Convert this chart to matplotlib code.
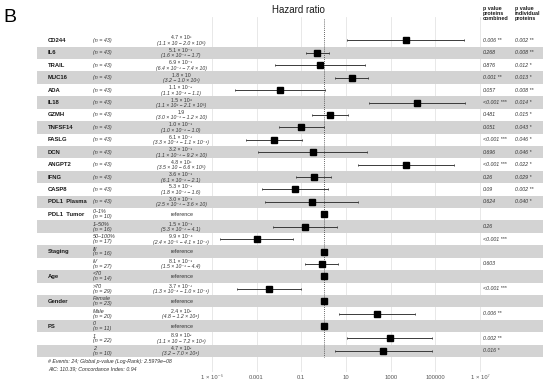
"""
Forest plot (hazard ratios, Cox model) - recreated from figure panel B.
"""
import numpy as np
import matplotlib
matplotlib.use("Agg")
import matplotlib.pyplot as plt
from matplotlib.ticker import NullLocator

plt.rcParams["font.family"] = ["Liberation Sans", "DejaVu Sans"]

# ---- data --------------------------------------------------------------
var_names = ["CD244", "IL6", "TRAIL", "MUC16", "ADA", "IL18", "GZMH", "TNFSF14",
             "FASLG", "DCN", "ANGPT2", "IFNG", "CASP8", "PDL1  Plasma",
             "PDL1  Tumor", "", "", "Staging", "", "Age", "", "Gender", "",
             "PS", "", ""]
n_labels = ["(n = 43)"] * 14 + [
    "0–1%\n(n = 10)", "1–50%\n(n = 16)", "50–100%\n(n = 17)",
    "III\n(n = 16)", "IV\n(n = 27)",
    "<70\n(n = 14)", ">70\n(n = 29)",
    "Female\n(n = 23)", "Male\n(n = 20)",
    "0\n(n = 11)", "1\n(n = 22)", "2\n(n = 10)"]
hr = [4.7e3, 0.51, 0.69, 18, 0.011, 1.5e4, 1.9, 0.10, 6.1e-3, 0.32, 4.8e3, 0.36,
      0.053, 0.30, 1, 0.15, 9.9e-4, 1, 0.81, 1, 3.7e-3, 1, 240, 1, 890, 470]
ci_low = [11, 0.16, 6.4e-3, 3.2, 1.1e-4, 110, 0.30, 0.01, 3.3e-4, 1.1e-3, 35, 0.061,
          1.8e-3, 2.5e-3, np.nan, 5.3e-3, 2.4e-5, np.nan, 0.15, np.nan, 1.3e-4,
          np.nan, 4.8, np.nan, 11, 3.2]
ci_high = [2.0e6, 1.7, 74, 100, 1.1, 2.1e6, 12, 1.0, 0.11, 92, 6.6e5, 2.1,
           1.6, 36, np.nan, 4.1, 0.041, np.nan, 4.4, np.nan, 0.10,
           np.nan, 1.2e4, np.nan, 7.2e4, 7.0e4]
hr_text = ["4.7 × 10³", "5.1 × 10⁻¹", "6.9 × 10⁻¹", "1.8 × 10", "1.1 × 10⁻²",
           "1.5 × 10⁴", "1.9", "1.0 × 10⁻¹", "6.1 × 10⁻³", "3.2 × 10⁻¹",
           "4.8 × 10³", "3.6 × 10⁻¹", "5.3 × 10⁻²", "3.0 × 10⁻¹", "reference",
           "1.5 × 10⁻¹", "9.9 × 10⁻⁴", "reference", "8.1 × 10⁻¹", "reference",
           "3.7 × 10⁻³", "reference", "2.4 × 10²", "reference", "8.9 × 10²",
           "4.7 × 10²"]
ci_text = ["(1.1 × 10 − 2.0 × 10⁶)", "(1.6 × 10⁻¹ − 1.7)", "(6.4 × 10⁻³ − 7.4 × 10)",
           "(3.2 − 1.0 × 10²)", "(1.1 × 10⁻⁴ − 1.1)", "(1.1 × 10² − 2.1 × 10⁶)",
           "(3.0 × 10⁻¹ − 1.2 × 10)", "(1.0 × 10⁻² − 1.0)", "(3.3 × 10⁻⁴ − 1.1 × 10⁻¹)",
           "(1.1 × 10⁻³ − 9.2 × 10)", "(3.5 × 10 − 6.6 × 10⁵)", "(6.1 × 10⁻² − 2.1)",
           "(1.8 × 10⁻³ − 1.6)", "(2.5 × 10⁻³ − 3.6 × 10)", "",
           "(5.3 × 10⁻³ − 4.1)", "(2.4 × 10⁻⁵ − 4.1 × 10⁻²)", "",
           "(1.5 × 10⁻¹ − 4.4)", "", "(1.3 × 10⁻⁴ − 1.0 × 10⁻¹)", "",
           "(4.8 − 1.2 × 10⁴)", "", "(1.1 × 10 − 7.2 × 10⁴)", "(3.2 − 7.0 × 10⁴)"]
p_combined = ["0.006 **", "0.268", "0.876", "0.001 **", "0.057", "<0.001 ***",
              "0.481", "0.051", "<0.001 ***", "0.696", "<0.001 ***", "0.26",
              "0.09", "0.624", "", "0.26", "<0.001 ***", "", "0.603", "",
              "<0.001 ***", "", "0.006 **", "", "0.002 **", "0.016 *"]
p_individual = ["0.002 **", "0.008 **", "0.012 *", "0.013 *", "0.008 **", "0.014 *",
                "0.015 *", "0.043 *", "0.046 *", "0.046 *", "0.022 *", "0.029 *",
                "0.002 **", "0.040 *"] + [""] * 12
tick_vals = [1e-5, 1e-3, 0.1, 10, 1e3, 1e5, 1e7]
tick_labels = ["1 × 10⁻⁵", "0.001", "0.1", "10", "1000", "100000", "1 × 10⁷"]

# ---- layout (pixel based) ---------------------------------------------
W, H = 550, 388
ROW0, ROWH = 40.4, 12.42          # px centre of first row, row height
AX_L, AX_R, AX_T, AX_B = 37, 543, 17, 372


def ydat(px):
    return (px - ROW0) / ROWH


def fx(px):
    return (px - AX_L) / (AX_R - AX_L)


fig = plt.figure(figsize=(W / 100, H / 100), dpi=100)
ax = fig.add_axes([AX_L / W, 1 - AX_B / H, (AX_R - AX_L) / W, (AX_B - AX_T) / H])

ax.set_xscale("log")
ax.set_xlim(10 ** -12.83, 10 ** 9.82)
ax.set_ylim(ydat(AX_B), ydat(AX_T))
ax.xaxis.set_minor_locator(NullLocator())
ax.set_xticks(tick_vals)
ax.set_xticklabels(tick_labels)
ax.tick_params(axis="x", length=0, pad=2, labelsize=4.2, colors="#555555")
ax.set_yticks([])
for s in ax.spines.values():
    s.set_visible(False)
ax.set_axisbelow(True)
ax.grid(axis="x", color="#e4e4e4", lw=0.6)

rows = np.arange(len(var_names))
last = rows[-1]

# alternating bands
for i in rows:
    if i % 2 == 1:
        ax.axhspan(i - 0.5, i + 0.5, color="#d3d3d3", lw=0, zorder=1)

# reference line at HR = 1
ax.vlines(1, ydat(AX_T + 2), last + 0.5, colors="#333333", linestyles=(0, (1, 1.5)),
          lw=0.6, zorder=2)

# CI lines, caps and point estimates
ax.hlines(rows, ci_low, ci_high, colors="#3a3a3a", lw=0.7, zorder=3)
ax.plot(ci_low, rows, "|", color="#3a3a3a", ms=2, mew=0.6, zorder=3)
ax.plot(ci_high, rows, "|", color="#3a3a3a", ms=2, mew=0.6, zorder=3)
ax.plot(hr, rows, "s", color="black", ms=3.9, zorder=4)

# text columns
tr = ax.get_yaxis_transform()
txt_col = "#1a1a1a"
for i in rows:
    ax.text(fx(48), i, var_names[i], transform=tr, fontsize=4.2, fontweight="bold",
            ha="left", va="center", color=txt_col)
    ax.text(fx(93), i, n_labels[i], transform=tr, fontsize=3.9, style="italic",
            ha="left", va="center", color="#333333", linespacing=0.95)
    if hr_text[i] == "reference":
        ax.text(fx(182), i, "reference", transform=tr, fontsize=3.9,
                ha="center", va="center", color="#333333")
    else:
        ax.text(fx(181), i - 0.2, hr_text[i], transform=tr, fontsize=3.7,
                ha="center", va="center", color="#333333")
        ax.text(fx(181), i + 0.24, ci_text[i], transform=tr, fontsize=3.7,
                style="italic", ha="center", va="center", color="#333333")
    ax.text(fx(483), i, p_combined[i], transform=tr, fontsize=3.8, style="italic",
            ha="left", va="center", color="#333333")
    ax.text(fx(515), i, p_individual[i], transform=tr, fontsize=3.8, style="italic",
            ha="left", va="center", color="#333333")

# column headers
ax.text(fx(483), ydat(6), "p value\nproteins\ncombined", transform=tr, fontsize=3.9,
        fontweight="bold", ha="left", va="top", color=txt_col, linespacing=1.05)
ax.text(fx(515), ydat(6), "p value\nindividual\nproteins", transform=tr, fontsize=3.9,
        fontweight="bold", ha="left", va="top", color=txt_col, linespacing=1.05)

# footnote
ax.text(fx(48), ydat(361), "# Events: 24; Global p-value (Log-Rank): 2.5979e−08",
        transform=tr, fontsize=3.8, style="italic", ha="left", va="center",
        color="#333333")
ax.text(fx(48), ydat(368.5), "AIC: 110.39; Concordance Index: 0.94",
        transform=tr, fontsize=3.8, style="italic", ha="left", va="center",
        color="#333333")

# title and panel letter
fig.text(298 / W, 1 - 10 / H, "Hazard ratio", fontsize=7, ha="center", va="center",
         color="#1a1a1a")
fig.text(3 / W, 1 - 17 / H, "B", fontsize=14, ha="left", va="center", color="black")

fig.savefig("out.png", dpi=100)
